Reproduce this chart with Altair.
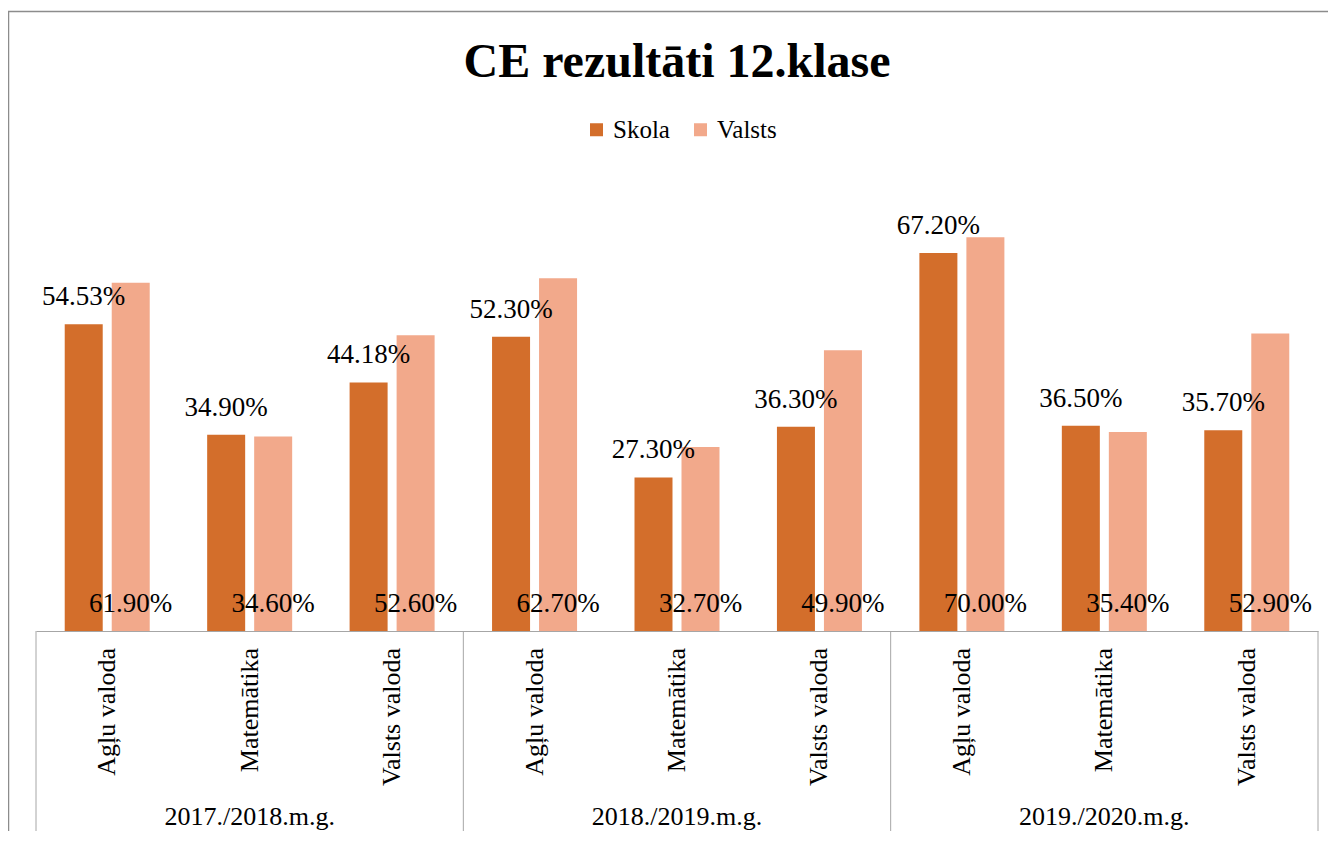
import altair as alt
import pandas as pd

years = ["2017./2018.m.g.", "2018./2019.m.g.", "2019./2020.m.g."]
subjects = ["Agļu valoda", "Matemātika", "Valsts valoda"]
series = ["Skola", "Valsts"]
skola = [54.53, 34.90, 44.18, 52.30, 27.30, 36.30, 67.20, 36.50, 35.70]
valsts = [61.90, 34.60, 52.60, 62.70, 32.70, 49.90, 70.00, 35.40, 52.90]
colors = ["#D36E2B", "#F2A98B"]
title_text = "CE rezultāti 12.klase"

FONT = "'Liberation Serif', 'Times New Roman', Times, serif"
W, H = 1282, 450
LINE = "#A6A6A6"

keys = [f"{y}|{s}" for y in years for s in subjects]

rows = []
i = 0
for y in years:
    for s in subjects:
        k = f"{y}|{s}"
        rows.append({"key": k, "series": "Skola", "value": skola[i], "label": f"{skola[i]:.2f}%"})
        rows.append({"key": k, "series": "Valsts", "value": valsts[i], "label": f"{valsts[i]:.2f}%"})
        i += 1
df = pd.DataFrame(rows)

df_sub = pd.DataFrame({"key": keys, "subject": [s for _ in years for s in subjects]})
df_year = pd.DataFrame({"key": [f"{y}|{subjects[1]}" for y in years], "year": years})
df_sep = pd.DataFrame({"key": [f"{y}|{subjects[0]}" for y in years]})
df_end = pd.DataFrame({"key": [keys[-1]]})
df_title = pd.DataFrame({"t": [title_text]})
one = pd.DataFrame({"a": [0]})

x_axis = alt.Axis(labels=False, ticks=False, title=None, domain=True,
                  domainColor=LINE, domainWidth=1, grid=False)
x_scale = alt.Scale(domain=keys, paddingInner=0, paddingOuter=0)


def xk(**kw):
    return alt.X("key:N", scale=x_scale, axis=x_axis, **kw)


xoff = alt.XOffset("series:N", sort=series,
                   scale=alt.Scale(domain=series, paddingInner=0.1915, paddingOuter=0.611))
y_scale = alt.Scale(domain=[0, 80])

bars = alt.Chart(df).mark_bar().encode(
    x=xk(),
    xOffset=xoff,
    y=alt.Y("value:Q", scale=y_scale, axis=None),
    color=alt.Color("series:N", sort=series,
                    scale=alt.Scale(domain=series, range=colors),
                    legend=alt.Legend(orient="none", legendX=548, legendY=-64,
                                      direction="horizontal", title=None,
                                      symbolType="square", symbolSize=169,
                                      symbolStrokeWidth=0, labelFont=FONT,
                                      labelFontSize=25, labelColor="black",
                                      columnPadding=18, labelOffset=4)),
)

lab_skola = alt.Chart(df).transform_filter(alt.datum.series == "Skola").mark_text(
    font=FONT, fontSize=27, baseline="alphabetic", dy=-19, color="black"
).encode(x=xk(), xOffset=xoff, y=alt.Y("value:Q", scale=y_scale, axis=None), text="label:N")

lab_valsts = alt.Chart(df).transform_filter(alt.datum.series == "Valsts").mark_text(
    font=FONT, fontSize=27, baseline="alphabetic", dy=-19, color="black"
).encode(x=xk(), xOffset=xoff, y=alt.datum(0, scale=y_scale), text="label:N")

sub_lab = alt.Chart(df_sub).mark_text(
    font=FONT, fontSize=26, angle=270, align="right", baseline="middle", color="black"
).encode(x=xk(), y=alt.value(H + 17), text="subject:N")

year_lab = alt.Chart(df_year).mark_text(
    font=FONT, fontSize=26, baseline="alphabetic", color="black"
).encode(x=xk(), y=alt.value(H + 194), text="year:N")

title = alt.Chart(df_title).mark_text(
    font=FONT, fontSize=48, fontWeight="bold", baseline="alphabetic", color="black"
).encode(x=alt.value(W / 2), y=alt.value(-104), text="t:N")

sep = alt.Chart(df_sep).mark_rule(color=LINE, strokeWidth=1).encode(
    x=xk(bandPosition=0), y=alt.value(H), y2=alt.value(H + 200))
sep_end = alt.Chart(df_end).mark_rule(color=LINE, strokeWidth=1).encode(
    x=xk(bandPosition=1), y=alt.value(H), y2=alt.value(H + 200))

frame_top = alt.Chart(one).mark_rule(color="#8C8C8C", strokeWidth=1.5).encode(
    x=alt.value(-28), x2=alt.value(W + 10), y=alt.value(-169.5))
frame_left = alt.Chart(one).mark_rule(color="#8C8C8C", strokeWidth=1.5).encode(
    x=alt.value(-27.5), y=alt.value(-169.5), y2=alt.value(H + 200))

chart = alt.layer(
    bars, lab_skola, lab_valsts, sub_lab, year_lab, title, sep, sep_end, frame_top, frame_left
).properties(
    width=W, height=H,
    autosize=alt.AutoSizeParams(type="none"),
    padding={"left": 28, "top": 173, "right": 10, "bottom": 200},
).configure_view(stroke=None)

chart.save("out.html", embed_options={"renderer": "svg", "actions": False})
